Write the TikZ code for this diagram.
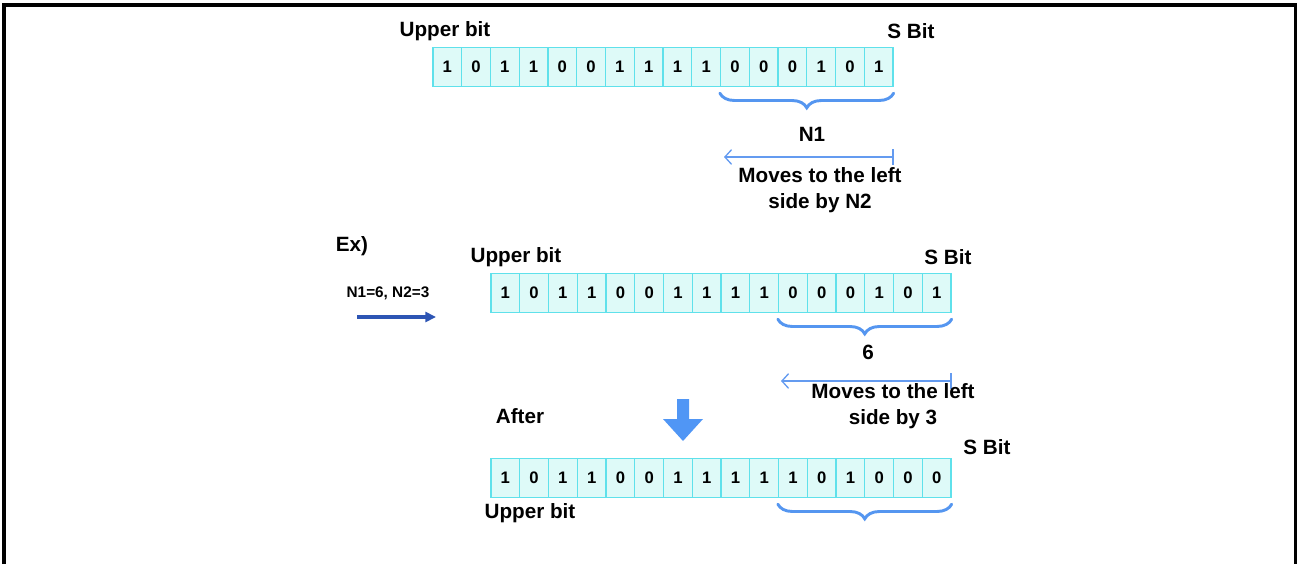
\documentclass[tikz,border=0pt]{standalone}
\usepackage{fontspec}
\setmainfont{Liberation Sans}
\usetikzlibrary{positioning,arrows.meta,decorations.pathreplacing}
\definecolor{cellfill}{RGB}{222,250,248}
\definecolor{celledge}{RGB}{95,225,235}
\definecolor{braceblue}{RGB}{85,150,240}
\definecolor{shiftblue}{RGB}{100,155,240}
\definecolor{darkblue}{RGB}{45,85,180}
\definecolor{dropblue}{RGB}{80,150,245}

\begin{document}
\begin{tikzpicture}[x=0.75pt,y=-0.75pt,font=\bfseries\fontsize{15.5}{19.5}\selectfont,
  cell/.style={draw=celledge, fill=cellfill, line width=1pt, minimum width=21.56pt, minimum height=29.25pt,
    inner sep=0pt, font=\bfseries\fontsize{12.5}{14}\selectfont},
  nbrace/.style={draw=braceblue, line width=2.2pt, line cap=round, decorate, decoration={brace, mirror, amplitude=11pt}},
  shiftarr/.style={draw=shiftblue, line width=1pt, {Bar[width=12pt]}-{Straight Barb[length=5pt,width=11pt]}},
  darkarr/.style={draw=darkblue, line width=2.3pt, -{Triangle[length=8pt,width=7.5pt]}}]
  \def\cw{28.75}
  \useasboundingbox (0,0) rectangle (1298,564);
  \draw[line width=2.6pt] (4,564) -- (4,5) -- (1295.5,5) -- (1295.5,564);
  \foreach \b [count=\i] in {1,0,1,1,0,0,1,1,1,1,0,0,0,1,0,1}
    \node[cell] (a\i) at ({433+(\i-0.5)*\cw},67) {\b};
  \foreach \b [count=\i] in {1,0,1,1,0,0,1,1,1,1,0,0,0,1,0,1}
    \node[cell] (b\i) at ({491+(\i-0.5)*\cw},293) {\b};
  \foreach \b [count=\i] in {1,0,1,1,0,0,1,1,1,1,1,0,1,0,0,0}
    \node[cell] (c\i) at ({491+(\i-0.5)*\cw},478) {\b};
  \node (up1) at (445,31) {Upper bit};
  \node (sb1) at (911,31) {S Bit};
  \draw[nbrace] ([yshift=-4.5pt]a11.south west) -- ([yshift=-4.5pt]a16.south east);
  \node (n1) at (812,134) {N1};
  \coordinate (r1) at (a16.south east |- 0,157);
  \coordinate (l1) at (724,157);
  \draw[shiftarr] (r1) -- (l1);
  \node[align=center] (mv1) at (820,190) {Moves to the left\\side by N2};
  \node (ex) at (352,246) {Ex)};
  \node[font=\bfseries\fontsize{11.5}{14}\selectfont] (nn) at (388,293) {N1=6, N2=3};
  \coordinate (da) at (357,317);
  \coordinate (db) at (436,317);
  \draw[darkarr] (da) -- (db);
  \node (up2) at (516,257) {Upper bit};
  \node (sb2) at (948,257) {S Bit};
  \draw[nbrace] ([yshift=-4.5pt]b11.south west) -- ([yshift=-4.5pt]b16.south east);
  \node (six) at (868,352) {6};
  \coordinate (r2) at (b16.south east |- 0,381);
  \coordinate (l2) at (781,381);
  \draw[shiftarr] (r2) -- (l2);
  \node[align=center] (mv2) at (893,406) {Moves to the left\\side by 3};
  \node (aft) at (520,416) {After};
  \fill[dropblue] (677,399) -- (689,399) -- (689,419) -- (703,419) -- (683,441) -- (663,419) -- (677,419) -- cycle;
  \node (sb3) at (987,447) {S Bit};
  \node (up3) at (530,513) {Upper bit};
  \draw[nbrace] ([yshift=-4.5pt]c11.south west) -- ([yshift=-4.5pt]c16.south east);
\end{tikzpicture}
\end{document}
